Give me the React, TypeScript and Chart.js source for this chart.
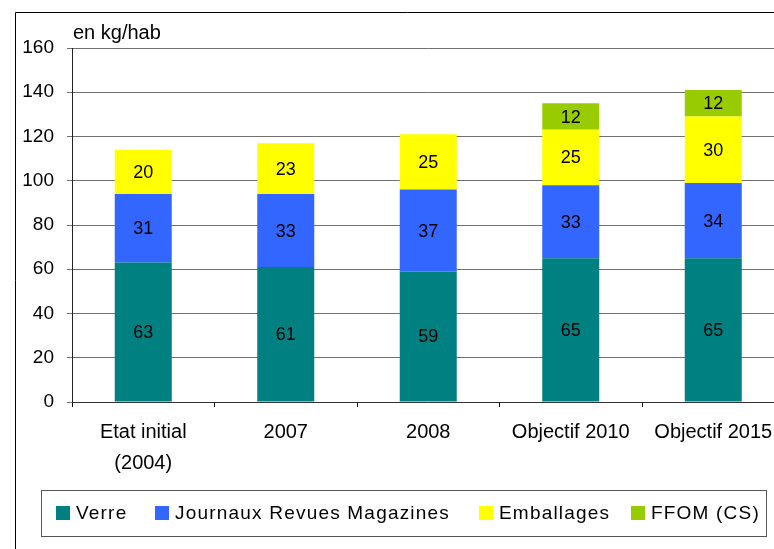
import React, { useEffect, useRef } from "react";
import { Chart, registerables } from "chart.js";

Chart.register(...registerables);

const categories: (string | string[])[] = [
  ["Etat initial", "(2004)"],
  "2007",
  "2008",
  "Objectif 2010",
  "Objectif 2015",
];
const verre = [63, 61, 59, 65, 65];
const journaux = [31, 33, 37, 33, 34];
const emballages = [20, 23, 25, 25, 30];
const ffom = [null, null, null, 12, 12];
const seriesNames = ["Verre", "Journaux Revues Magazines", "Emballages", "FFOM (CS)"];
const seriesColors = ["#008080", "#3366FF", "#FFFF00", "#99CC00"];
const yTicks = { min: 0, max: 160, step: 20 };
const unitLabel = "en kg/hab";

const FONT = 'Arial, "Liberation Sans", sans-serif';

const overlayPlugin = {
  id: "overlay",
  afterDatasetsDraw(chart: any) {
    const ctx = chart.ctx as CanvasRenderingContext2D;
    ctx.save();
    ctx.fillStyle = "#000";
    ctx.font = `18px ${FONT}`;
    ctx.textAlign = "center";
    ctx.textBaseline = "middle";
    chart.data.datasets.forEach((ds: any, i: number) => {
      const meta = chart.getDatasetMeta(i);
      meta.data.forEach((bar: any, j: number) => {
        const v = ds.data[j];
        if (v == null) return;
        ctx.fillText(String(v), bar.x, (bar.y + bar.base) / 2 + 1);
      });
    });
    ctx.restore();
  },
  afterDraw(chart: any) {
    const ctx = chart.ctx as CanvasRenderingContext2D;
    const area = chart.chartArea;
    ctx.save();
    // outer frame
    ctx.strokeStyle = "#000";
    ctx.lineWidth = 1;
    ctx.beginPath();
    ctx.moveTo(15.5, chart.height);
    ctx.lineTo(15.5, 12.5);
    ctx.lineTo(chart.width, 12.5);
    ctx.stroke();
    // unit label
    ctx.fillStyle = "#000";
    ctx.font = `20px ${FONT}`;
    ctx.textAlign = "left";
    ctx.textBaseline = "alphabetic";
    ctx.fillText(unitLabel, area.left + 1, 39);
    // legend
    ctx.strokeStyle = "#555";
    ctx.strokeRect(41.5, 490.5, 725, 46);
    const itemX = [56, 155, 479, 631];
    ctx.font = `19px ${FONT}`;
    (ctx as any).letterSpacing = "1.2px";
    ctx.textBaseline = "middle";
    chart.data.datasets.forEach((ds: any, i: number) => {
      const x = itemX[i];
      ctx.fillStyle = ds.backgroundColor;
      ctx.fillRect(x, 506, 14, 14);
      ctx.fillStyle = "#000";
      ctx.fillText(ds.label, x + 20, 514);
    });
    ctx.restore();
  },
};

export default function App() {
  const ref = useRef<HTMLCanvasElement | null>(null);
  useEffect(() => {
    if (!ref.current) return;
    const values = [verre, journaux, emballages, ffom];
    const chart = new Chart(ref.current, {
      type: "bar",
      data: {
        labels: categories,
        datasets: values.map((d, i) => ({
          label: seriesNames[i],
          data: d as any,
          backgroundColor: seriesColors[i],
          borderWidth: 0,
          barPercentage: 0.4,
          categoryPercentage: 1,
        })),
      },
      options: {
        responsive: false,
        animation: false,
        devicePixelRatio: 1,
        layout: { padding: { left: 0, top: 48, right: 15.5, bottom: 0 } },
        plugins: { legend: { display: false }, tooltip: { enabled: false } },
        scales: {
          x: {
            stacked: true,
            offset: true,
            grid: {
              offset: true,
              drawOnChartArea: false,
              drawTicks: true,
              tickLength: 5,
              color: "#000",
            },
            border: { color: "#333", width: 1 },
            ticks: {
              color: "#000",
              font: { family: FONT, size: 20, lineHeight: 1.55 },
              padding: 10,
              maxRotation: 0,
              autoSkip: false,
            },
            afterFit: (s: any) => {
              s.height = 147;
            },
          },
          y: {
            stacked: true,
            min: yTicks.min,
            max: yTicks.max,
            grid: { color: "#707070", tickLength: 5 },
            border: { color: "#222", width: 1 },
            ticks: {
              stepSize: yTicks.step,
              color: "#000",
              font: { family: FONT, size: 19 },
              padding: 13,
            },
            afterFit: (s: any) => {
              s.width = 72;
            },
          },
        },
      },
      plugins: [overlayPlugin],
    });
    return () => chart.destroy();
  }, []);
  return (
    <div
      style={{
        position: "fixed",
        left: 0,
        top: 0,
        width: 774,
        height: 549,
        overflow: "hidden",
        background: "#fff",
      }}
    >
      <canvas ref={ref} width={800} height={549} style={{ display: "block" }} />
    </div>
  );
}
